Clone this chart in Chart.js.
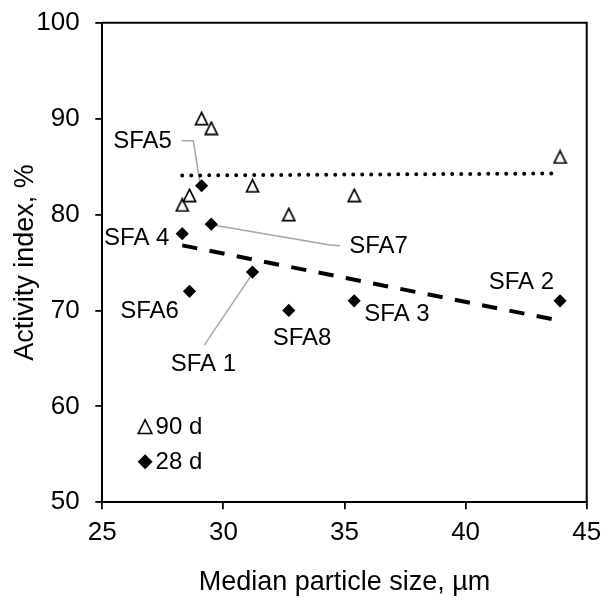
<!DOCTYPE html>
<html>
<head>
<meta charset="utf-8">
<script src="https://cdn.jsdelivr.net/npm/chart.js@4.4.1/dist/chart.umd.min.js"></script>
<style>
  html, body { margin: 0; padding: 0; background: #fff; }
  #wrap { width: 614px; height: 602px; }
</style>
</head>
<body>
<div id="wrap"><canvas id="c" width="614" height="602"></canvas></div>
<script>
// Fly ash samples: median particle size and strength activity index
const samples     = ['SFA 1', 'SFA 2', 'SFA 3', 'SFA 4', 'SFA5', 'SFA6', 'SFA7', 'SFA8'];
const medianSize  = [31.2, 43.9, 35.4, 28.3, 29.1, 28.6, 29.5, 32.7];   // µm
const activity28  = [74, 71, 71, 78, 83, 72, 79, 70];                   // %, 28 d
const activity90  = [83, 86, 82, 81, 90, 82, 89, 80];                   // %, 90 d
const xRange = [25, 45], xStep = 5;
const yRange = [50, 100], yStep = 10;
const legendNames = ['90 d', '28 d'];

// Label placement around each 28 d marker (pixel offsets: text centre, optional leader path)
const labelLayout = [
  { dx: -49,   dy: 92,   leader: [[-48.2, 73], [0.2, 1.3]] },
  { dx: -38.6, dy: -18.3 },
  { dx: 42.8,  dy: 13.2 },
  { dx: -45.5, dy: 4.8 },
  { dx: -59,   dy: -44,  leader: [[-19.9, -45], [-8.3, -45], [-1.6, -2.4]] },
  { dx: -40,   dy: 20.3 },
  { dx: 167.2, dy: 22.4, leader: [[1.7, 0.9], [118.7, 20.9], [128.7, 21.6]] },
  { dx: 13.2,  dy: 28.1 }
];

const FONT = "'Liberation Sans', Arial, Helvetica, sans-serif";

// Least-squares line through (xs, ys), returned as its two end points
function trend(xs, ys) {
  const n = xs.length;
  const mx = xs.reduce((a, b) => a + b, 0) / n;
  const my = ys.reduce((a, b) => a + b, 0) / n;
  let sxy = 0, sxx = 0;
  for (let i = 0; i < n; i++) { sxy += (xs[i] - mx) * (ys[i] - my); sxx += (xs[i] - mx) ** 2; }
  const k = sxy / sxx, b = my - k * mx;
  const x0 = Math.min(...xs), x1 = Math.max(...xs);
  return [{ x: x0, y: k * x0 + b }, { x: x1, y: k * x1 + b }];
}

// Open triangle marker (equal width and height)
function triangleImage(size, lw) {
  const c = document.createElement('canvas');
  c.width = c.height = size;
  const g = c.getContext('2d');
  const m = lw / 2 + 0.6;
  g.beginPath();
  g.moveTo(size / 2, m);
  g.lineTo(size - m, size - m);
  g.lineTo(m, size - m);
  g.closePath();
  g.fillStyle = '#fff';
  g.fill();
  g.lineWidth = lw;
  g.strokeStyle = '#000';
  g.stroke();
  return c;
}

const pts = (ys) => medianSize.map((x, i) => ({ x: x, y: ys[i] }));

const framePlugin = {
  id: 'frame',
  afterDraw(chart) {
    const { ctx, chartArea: a } = chart;
    ctx.save();
    ctx.strokeStyle = '#000';
    ctx.lineWidth = 2;
    ctx.beginPath();
    ctx.moveTo(a.left, a.top);
    ctx.lineTo(a.right, a.top);
    ctx.lineTo(a.right, a.bottom);
    ctx.stroke();
    ctx.restore();
  }
};

const labelPlugin = {
  id: 'sampleLabels',
  beforeDatasetsDraw(chart) {
    const meta = chart.getDatasetMeta(3);
    const ctx = chart.ctx;
    ctx.save();
    ctx.strokeStyle = '#a6a6a6';
    ctx.lineWidth = 1.5;
    meta.data.forEach((p, i) => {
      const L = labelLayout[i];
      if (!L.leader) return;
      ctx.beginPath();
      L.leader.forEach(([dx, dy], j) => {
        if (j === 0) ctx.moveTo(p.x + dx, p.y + dy); else ctx.lineTo(p.x + dx, p.y + dy);
      });
      ctx.stroke();
    });
    ctx.restore();
  },
  afterDatasetsDraw(chart) {
    const meta = chart.getDatasetMeta(3);
    const ctx = chart.ctx;
    ctx.save();
    ctx.fillStyle = '#000';
    ctx.font = '24px ' + FONT;
    ctx.textAlign = 'center';
    ctx.textBaseline = 'middle';
    meta.data.forEach((p, i) => {
      const L = labelLayout[i];
      ctx.fillText(samples[i], p.x + L.dx, p.y + L.dy);
    });

    // legend in the lower left of the plot
    const a = chart.chartArea;
    const lx = a.left + 42.8;
    const y1 = a.top + 404, y2 = a.top + 439;
    ctx.lineWidth = 1.6;
    ctx.strokeStyle = '#000';
    ctx.beginPath();
    ctx.moveTo(lx, y1 - 6.8);
    ctx.lineTo(lx + 6.8, y1 + 6.8);
    ctx.lineTo(lx - 6.8, y1 + 6.8);
    ctx.closePath();
    ctx.fillStyle = '#fff';
    ctx.fill();
    ctx.stroke();
    ctx.fillStyle = '#000';
    ctx.beginPath();
    ctx.moveTo(lx, y2 - 7.5);
    ctx.lineTo(lx + 7.5, y2);
    ctx.lineTo(lx, y2 + 7.5);
    ctx.lineTo(lx - 7.5, y2);
    ctx.closePath();
    ctx.fill();
    ctx.textAlign = 'left';
    ctx.fillText(legendNames[0], lx + 10.5, y1 + 0.5);
    ctx.fillText(legendNames[1], lx + 10.5, y2 + 0.5);
    ctx.restore();
  }
};

new Chart(document.getElementById('c'), {
  type: 'scatter',
  data: {
    datasets: [
      { // 90 d trend
        type: 'line', data: trend(medianSize, activity90), order: 4,
        borderColor: '#000', borderWidth: 4, borderDash: [0, 9], borderCapStyle: 'round',
        pointRadius: 0, fill: false
      },
      { // 28 d trend
        type: 'line', data: trend(medianSize, activity28), order: 3,
        borderColor: '#000', borderWidth: 4, borderDash: [15.3, 12.5], borderCapStyle: 'butt',
        pointRadius: 0, fill: false
      },
      {
        label: '90 d', data: pts(activity90), order: 2,
        pointStyle: triangleImage(15, 1.7), pointRadius: 7
      },
      {
        label: '28 d', data: pts(activity28), order: 1,
        pointStyle: 'rectRot', pointRadius: 6.6,
        pointBackgroundColor: '#000', pointBorderWidth: 0, borderWidth: 0
      }
    ]
  },
  options: {
    responsive: false,
    animation: false,
    events: [],
    layout: { padding: { top: 22.7, right: 27.3, left: 0, bottom: 0 } },
    plugins: { legend: { display: false }, tooltip: { enabled: false } },
    scales: {
      x: {
        type: 'linear', min: xRange[0], max: xRange[1],
        afterFit(s) { s.height = 99.7; s.paddingLeft = 0; s.paddingRight = 0; },
        ticks: { stepSize: xStep, color: '#000', padding: 8.2, font: { family: FONT, size: 26 } },
        grid: { drawOnChartArea: false, drawTicks: true, tickLength: 7, color: '#000', lineWidth: 1.8 },
        border: { display: true, color: '#000', width: 2 },
        title: { display: true, text: 'Median particle size, µm', color: '#000',
                 font: { family: FONT, size: 27 }, padding: { top: 0, bottom: 3.5 } }
      },
      y: {
        type: 'linear', min: yRange[0], max: yRange[1],
        afterFit(s) { s.width = 102.3; s.paddingTop = 0; s.paddingBottom = 0; },
        ticks: { stepSize: yStep, color: '#000', padding: 15.7, font: { family: FONT, size: 26 } },
        grid: { drawOnChartArea: false, drawTicks: true, tickLength: 7, color: '#000', lineWidth: 1.8 },
        border: { display: true, color: '#000', width: 2 },
        title: { display: true, text: 'Activity index, %', color: '#000',
                 font: { family: FONT, size: 27 }, padding: { top: 9, bottom: 0 } }
      }
    }
  },
  plugins: [framePlugin, labelPlugin]
});
</script>
</body>
</html>
